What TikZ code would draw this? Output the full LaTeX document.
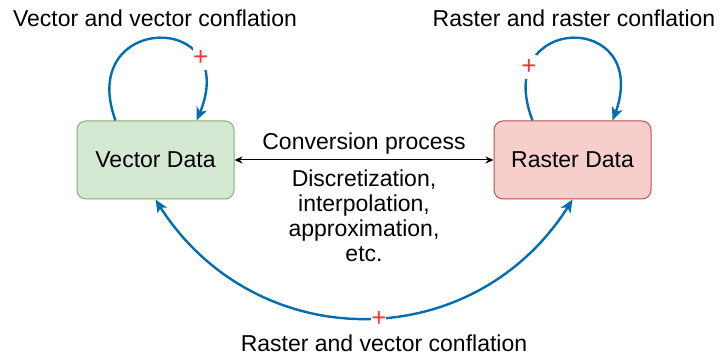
\documentclass[tikz,border=0pt]{standalone}
\usepackage{fontspec}
\setmainfont{Liberation Sans}
\usetikzlibrary{arrows.meta,bending}
\definecolor{linkblue}{HTML}{006EAF}
\definecolor{vecfill}{HTML}{D5E8D4}
\definecolor{vecline}{HTML}{82B366}
\definecolor{rasfill}{HTML}{F8CECC}
\definecolor{rasline}{HTML}{B85450}
\definecolor{plusred}{HTML}{FF3333}
\tikzset{
  databox/.style={draw, rounded corners=9pt, minimum width=157pt, minimum height=78pt, line width=1pt},
  bluetip/.tip={Stealth[length=13pt,width=11pt,inset=3.5pt]},
  conflate/.style={draw=linkblue, line width=2.4pt, -bluetip},
  plus/.style={fill=white, text=plusred, font=\fontsize{26}{26}\selectfont, inner sep=0pt, minimum width=14pt, minimum height=24pt},
  lbl/.style={anchor=base}
}
\begin{document}
\begin{tikzpicture}[x=1pt,y=-1pt,font=\fontsize{23}{25}\selectfont]
\useasboundingbox (0,0) rectangle (720,358);
\node[databox, fill=vecfill, draw=vecline] (vec) at (155.5,160) {Vector Data};
\node[databox, fill=rasfill, draw=rasline] (ras) at (572.5,160) {Raster Data};
\draw[{Stealth[length=8pt,width=7pt]}-{Stealth[length=8pt,width=7pt]}, line width=1pt] (vec) -- (ras);
\node[lbl] (conv) at (364,150) {Conversion process};
\node[anchor=north, align=center, inner sep=0pt] (steps) at (364,169.5) {Discretization,\\interpolation,\\approximation,\\etc.};
\draw[conflate] ([xshift=-40pt]vec.north) .. controls (75,10) and (250,10) .. ([xshift=41pt]vec.north) node[plus, pos=.75] (pvv) {+};
\draw[conflate] ([xshift=-40pt]ras.north) .. controls (490,10) and (660,10) .. ([xshift=40pt]ras.north) node[plus, pos=.2] (prr) {+};
\draw[conflate, bluetip-bluetip] (vec.south) .. controls (250.7,359) and (478.3,359) .. (ras.south) node[plus, pos=.53] (prv) {+};
\node[lbl] (vvlab) at (155,27) {Vector and vector conflation};
\node[lbl] (rrlab) at (574,27) {Raster and raster conflation};
\node[lbl] (rvlab) at (384,351) {Raster and vector conflation};
\end{tikzpicture}
\end{document}
